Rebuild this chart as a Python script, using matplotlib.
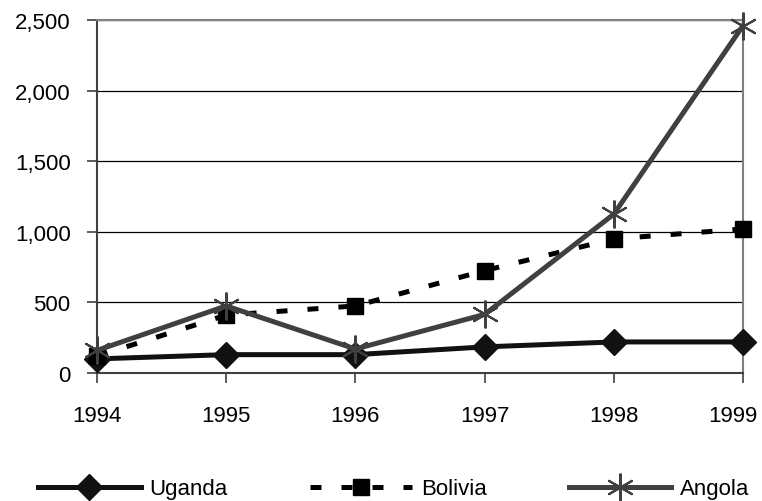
import matplotlib.pyplot as plt
from matplotlib.ticker import FuncFormatter
from matplotlib.transforms import ScaledTranslation

plt.rcParams['font.family'] = ['Liberation Sans', 'DejaVu Sans']

years = [1994, 1995, 1996, 1997, 1998, 1999]
uganda = [100, 130, 130, 185, 220, 220]
bolivia = [120, 410, 475, 725, 950, 1020]
angola = [160, 475, 170, 415, 1125, 2460]

fig = plt.figure(figsize=(7.62, 5.02), dpi=100)
ax = fig.add_axes([97 / 762, 1 - 374 / 502, 646 / 762, 353 / 502])

ax.plot(years, uganda, color='#111111', lw=3.6, marker='D', ms=13,
        mfc='#111111', mec='#111111', label='Uganda', clip_on=False, zorder=3)
ax.plot(years, bolivia, color='black', lw=3.6, ls=(0, (2.2, 4.0)), marker='s',
        ms=12, mfc='black', mec='black', label='Bolivia', clip_on=False, zorder=4)
ax.plot(years, angola, color='#404040', lw=3.6, marker=(6, 2, 0), ms=20,
        mew=1.5, mec='#404040', label='Angola', clip_on=False, zorder=5)

ax.set_xlim(1994, 1999)
ax.set_ylim(0, 2500)
ax.set_xticks(years)
ax.set_yticks(range(0, 2501, 500))
ax.yaxis.set_major_formatter(FuncFormatter(lambda v, p: f'{int(v):,}'))
ax.grid(axis='y', color='black', lw=0.9)
ax.set_axisbelow(True)

for s in ['top', 'right']:
    ax.spines[s].set_color('#808080')
    ax.spines[s].set_linewidth(1.5)
for s in ['left', 'bottom']:
    ax.spines[s].set_color('#404040')
    ax.spines[s].set_linewidth(1.5)
ax.tick_params(axis='both', direction='out', length=7, width=1.2, colors='#404040',
               labelcolor='black', labelsize=16)
ax.tick_params(axis='x', pad=16)
ax.tick_params(axis='y', pad=12)

# last year label sits against the right edge
fig.canvas.draw()
lab = ax.get_xticklabels()[-1]
lab.set_transform(lab.get_transform() + ScaledTranslation(-10 / 100, 0, fig.dpi_scale_trans))

fig.legend(loc='center', bbox_to_anchor=(0.517, 1 - 490 / 502), ncol=3, frameon=False,
           fontsize=16, handlelength=4.6, columnspacing=3.7, handletextpad=0.4)

plt.savefig('out.png', dpi=100)
